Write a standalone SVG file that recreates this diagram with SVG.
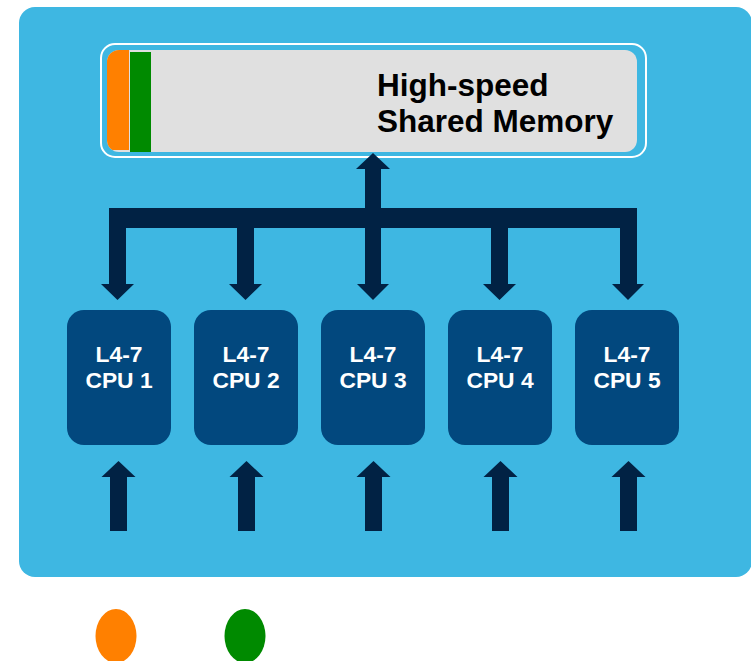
<svg xmlns="http://www.w3.org/2000/svg" width="751" height="661" viewBox="0 0 751 661">
<style>
.cpu{fill:#02487e}
.lbl{font-family:"Liberation Sans",Arial,sans-serif;font-weight:bold;font-size:22.8px;fill:#ffffff;text-anchor:middle}
.mem{font-family:"Liberation Sans",Arial,sans-serif;font-weight:bold;font-size:31.5px;fill:#000000}
.arr{fill:#012244}
</style>
<defs>
<clipPath id="memclip"><rect x="107" y="50" width="530" height="102" rx="12"/></clipPath>
</defs>
<rect id="background" x="19" y="7" width="733" height="570" rx="16" fill="#3eb7e2"/>
<g id="memory">
<rect x="101" y="44" width="545" height="113" rx="14" fill="none" stroke="#ffffff" stroke-width="2"/>
<rect x="107" y="50" width="530" height="102" rx="12" fill="#e0e0e0"/>
<g clip-path="url(#memclip)">
<rect x="107" y="50" width="22" height="100" fill="#ff8000"/>
<rect x="130" y="52" width="21" height="100" fill="#008a00"/>
</g>
<text class="mem" x="377" y="96">High-speed</text>
<text class="mem" x="377" y="132">Shared Memory</text>
</g>
<g id="connectors">
<path class="arr" d="M365,228 V169 H356 L373,153 L390,169 H381 V208 Z"/>
<rect class="arr" x="109" y="208" width="528" height="20"/>
<path class="arr" d="M109,228 H126 V284 H134 L117.5,300 L101,284 H109 Z"/>
<path class="arr" d="M237,228 H254 V284 H262 L245.5,300 L229,284 H237 Z"/>
<path class="arr" d="M365,228 H381 V284 H389 L373,300 L357,284 H365 Z"/>
<path class="arr" d="M491,228 H508 V284 H516 L499.5,300 L483,284 H491 Z"/>
<path class="arr" d="M620,208 H637 V284 H644 L628,300 L612,284 H620 Z"/>
<path class="arr" d="M110,531 V477 H101.5 L118.5,461 L135.5,477 H127 V531 Z"/>
<path class="arr" d="M238,531 V477 H229.5 L246.5,461 L263.5,477 H255 V531 Z"/>
<path class="arr" d="M365,531 V477 H356.5 L373.5,461 L390.5,477 H382 V531 Z"/>
<path class="arr" d="M492,531 V477 H483.5 L500.5,461 L517.5,477 H509 V531 Z"/>
<path class="arr" d="M620,531 V477 H611.5 L628.5,461 L645.5,477 H637 V531 Z"/>
</g>
<g id="cpu1"><rect class="cpu" x="67" y="310" width="104" height="135" rx="17"/><text class="lbl" x="119" y="362">L4-7</text><text class="lbl" x="119" y="388">CPU 1</text></g>
<g id="cpu2"><rect class="cpu" x="194" y="310" width="104" height="135" rx="17"/><text class="lbl" x="246" y="362">L4-7</text><text class="lbl" x="246" y="388">CPU 2</text></g>
<g id="cpu3"><rect class="cpu" x="321" y="310" width="104" height="135" rx="17"/><text class="lbl" x="373" y="362">L4-7</text><text class="lbl" x="373" y="388">CPU 3</text></g>
<g id="cpu4"><rect class="cpu" x="448" y="310" width="104" height="135" rx="17"/><text class="lbl" x="500" y="362">L4-7</text><text class="lbl" x="500" y="388">CPU 4</text></g>
<g id="cpu5"><rect class="cpu" x="575" y="310" width="104" height="135" rx="17"/><text class="lbl" x="627" y="362">L4-7</text><text class="lbl" x="627" y="388">CPU 5</text></g>
<g id="legend">
<ellipse cx="116" cy="636" rx="20.5" ry="27" fill="#ff8000"/>
<ellipse cx="245" cy="636" rx="20.5" ry="27" fill="#008a00"/>
</g>
</svg>
